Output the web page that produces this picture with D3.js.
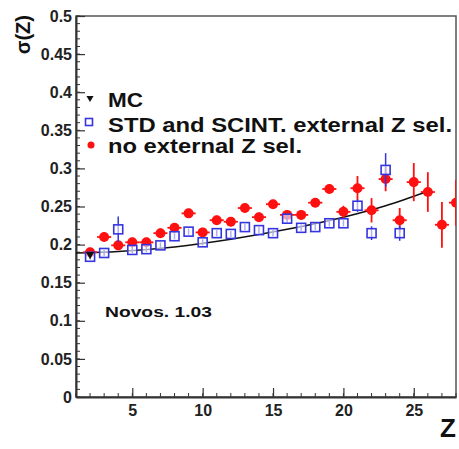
<!DOCTYPE html>
<html><head><meta charset="utf-8">
<script src="https://cdn.jsdelivr.net/npm/d3@7"></script>
<style>body{margin:0;background:#fff}svg{display:block}</style>
</head><body>
<script>
// ---- data ----
const redZ   = [2,3,4,5,6,7,8,9,10,11,12,13,14,15,16,17,18,19,20,21,22,23,24,25,26,27,28];
const redVal = [0.190,0.210,0.199,0.203,0.203,0.215,0.222,0.241,0.216,0.232,0.230,0.248,0.236,0.253,0.239,0.239,0.255,0.273,0.243,0.274,0.245,0.286,0.232,0.282,0.269,0.226,0.255];
const redErr = [0.006,0.006,0.006,0.006,0.006,0.006,0.006,0.006,0.006,0.006,0.006,0.006,0.006,0.006,0.006,0.006,0.006,0.006,0.008,0.016,0.016,0.016,0.016,0.025,0.026,0.030,0.030];
const blueZ   = [2,3,4,5,6,7,8,9,10,11,12,13,14,15,16,17,18,19,20,21,22,23,24];
const blueVal = [0.184,0.189,0.220,0.193,0.194,0.199,0.211,0.217,0.203,0.215,0.214,0.223,0.219,0.215,0.234,0.222,0.223,0.228,0.228,0.251,0.215,0.298,0.215];
const blueErr = [0.004,0.004,0.017,0.004,0.004,0.004,0.004,0.004,0.004,0.004,0.004,0.004,0.004,0.004,0.005,0.004,0.004,0.004,0.004,0.008,0.009,0.022,0.010];
const mcZ = [2], mcVal = [0.187];
const fitZ   = [1, 4, 8, 12, 16, 20, 23, 26];
const fitVal = [0.189, 0.191, 0.197, 0.207, 0.220, 0.236, 0.251, 0.270];
const yTicks = [0,0.05,0.1,0.15,0.2,0.25,0.3,0.35,0.4,0.45,0.5];
const yTickLabels = ["0","0.05","0.1","0.15","0.2","0.25","0.3","0.35","0.4","0.45","0.5"];
const xTicks = [5,10,15,20,25];
const legendLabels = ["MC","STD and SCINT. external Z sel.","no external Z sel."];

const W=459,H=449;
const L=76,R=456,T=16,B=397;
const x=d3.scaleLinear().domain([1,28]).range([L,R]);
const y=d3.scaleLinear().domain([0,0.5]).range([B,T]);
const RED="#ff1010", BLUE="#3535e0";
const font="'Liberation Sans', Arial, Helvetica, sans-serif";

const svg=d3.select("body").append("svg").attr("width",W).attr("height",H);
svg.append("defs").append("clipPath").attr("id","c").append("rect")
  .attr("x",L).attr("y",T).attr("width",R-L).attr("height",B-T);

// frame
svg.append("rect").attr("x",L).attr("y",T).attr("width",R-L).attr("height",B-T)
  .attr("fill","none").attr("stroke","#555").attr("stroke-width",1.5);

// y axis
const yAx=d3.axisLeft(y).tickValues(yTicks).tickFormat((d,i)=>yTickLabels[i]).tickSizeInner(-9).tickSizeOuter(0).tickPadding(4);
const gy=svg.append("g").attr("transform",`translate(${L},0)`).call(yAx);
gy.select(".domain").attr("stroke","#333").attr("stroke-width",2);
gy.selectAll(".tick line").attr("stroke","#333").attr("stroke-width",1.2);
gy.selectAll(".tick text").attr("font-family",font).attr("font-weight","bold").attr("font-size",16).attr("fill","#222").attr("x",-4);
const yMinor=d3.range(0,0.5001,0.01);
svg.append("g").selectAll("line").data(yMinor).join("line")
  .attr("x1",L).attr("x2",L+4).attr("y1",d=>y(d)).attr("y2",d=>y(d)).attr("stroke","#333").attr("stroke-width",1);

// x axis
const xAx=d3.axisBottom(x).tickValues(xTicks).tickFormat(d3.format("d")).tickSizeInner(-9).tickSizeOuter(0).tickPadding(8);
const gx=svg.append("g").attr("transform",`translate(0,${B})`).call(xAx);
gx.select(".domain").attr("stroke","#333").attr("stroke-width",2);
gx.selectAll(".tick line").attr("stroke","#333").attr("stroke-width",1.2);
gx.selectAll(".tick text").attr("font-family",font).attr("font-weight","bold").attr("font-size",16).attr("fill","#222");
svg.append("g").selectAll("line").data(d3.range(1,29)).join("line")
  .attr("x1",d=>x(d)).attr("x2",d=>x(d)).attr("y1",B).attr("y2",B-4).attr("stroke","#333").attr("stroke-width",1);

// axis titles
svg.append("text").attr("x",456).attr("y",437).attr("text-anchor","end")
  .attr("font-family",font).attr("font-weight","bold").attr("font-size",26).attr("fill","#111").text("Z");
svg.append("text").attr("transform","translate(30,15) rotate(-90)").attr("text-anchor","end")
  .attr("font-family",font).attr("font-weight","bold").attr("font-size",20).attr("fill","#111")
  .text("σ(Z)");

const g=svg.append("g").attr("clip-path","url(#c)");
// fit line
g.append("path").datum(fitZ.map((z,i)=>[z,fitVal[i]]))
  .attr("d",d3.line().x(d=>x(d[0])).y(d=>y(d[1])).curve(d3.curveMonotoneX))
  .attr("fill","none").attr("stroke","#111").attr("stroke-width",1.5);

// red series
const red=redZ.map((z,i)=>({z,v:redVal[i],e:redErr[i]}));
const rg=g.append("g");
rg.selectAll("line.v").data(red).join("line").attr("x1",d=>x(d.z)).attr("x2",d=>x(d.z))
  .attr("y1",d=>y(d.v-d.e)).attr("y2",d=>y(d.v+d.e)).attr("stroke",RED).attr("stroke-width",1.8);
rg.selectAll("line.h").data(red).join("line").attr("x1",d=>x(d.z-0.5)).attr("x2",d=>x(d.z+0.5))
  .attr("y1",d=>y(d.v)).attr("y2",d=>y(d.v)).attr("stroke",RED).attr("stroke-width",1.8);
rg.selectAll("circle").data(red).join("circle").attr("cx",d=>x(d.z)).attr("cy",d=>y(d.v)).attr("r",5).attr("fill",RED);

// blue series
const blue=blueZ.map((z,i)=>({z,v:blueVal[i],e:blueErr[i]}));
const bg=g.append("g");
bg.selectAll("line").data(blue).join("line").attr("x1",d=>x(d.z)).attr("x2",d=>x(d.z))
  .attr("y1",d=>y(d.v-d.e)).attr("y2",d=>y(d.v+d.e)).attr("stroke",BLUE).attr("stroke-width",1.5);
bg.selectAll("rect").data(blue).join("rect").attr("x",d=>x(d.z)-4.5).attr("y",d=>y(d.v)-4.5)
  .attr("width",9).attr("height",9).attr("fill","#fff").attr("fill-opacity",0.6).attr("stroke",BLUE).attr("stroke-width",1.6);

// MC
g.selectAll("path.mc").data(mcZ.map((z,i)=>({z,v:mcVal[i]}))).join("path")
  .attr("d",d3.symbol(d3.symbolTriangle,30)).attr("transform",d=>`translate(${x(d.z)},${y(d.v)}) rotate(180)`).attr("fill","#111");

// legend
const ly=[107,132,153];
const lw=[35,344,194];
svg.append("path").attr("d",d3.symbol(d3.symbolTriangle,22)).attr("transform",`translate(90,98) rotate(180)`).attr("fill","#111");
svg.append("rect").attr("x",85.5).attr("y",118.5).attr("width",7).attr("height",7).attr("fill","none").attr("stroke",BLUE).attr("stroke-width",1.6);
svg.append("circle").attr("cx",91).attr("cy",145).attr("r",3.5).attr("fill",RED);
svg.selectAll("text.leg").data(legendLabels).join("text").attr("class","leg")
  .attr("x",108).attr("y",(d,i)=>ly[i]).attr("font-family",font).attr("font-weight","bold").attr("font-size",20)
  .attr("textLength",(d,i)=>lw[i]).attr("lengthAdjust","spacingAndGlyphs").attr("fill","#111").text(d=>d);

svg.append("text").attr("x",105).attr("y",317).attr("font-family",font).attr("font-weight","bold").attr("font-size",15)
  .attr("textLength",107).attr("lengthAdjust","spacingAndGlyphs").attr("fill","#111").text("Novos. 1.03");
</script>
</body></html>
